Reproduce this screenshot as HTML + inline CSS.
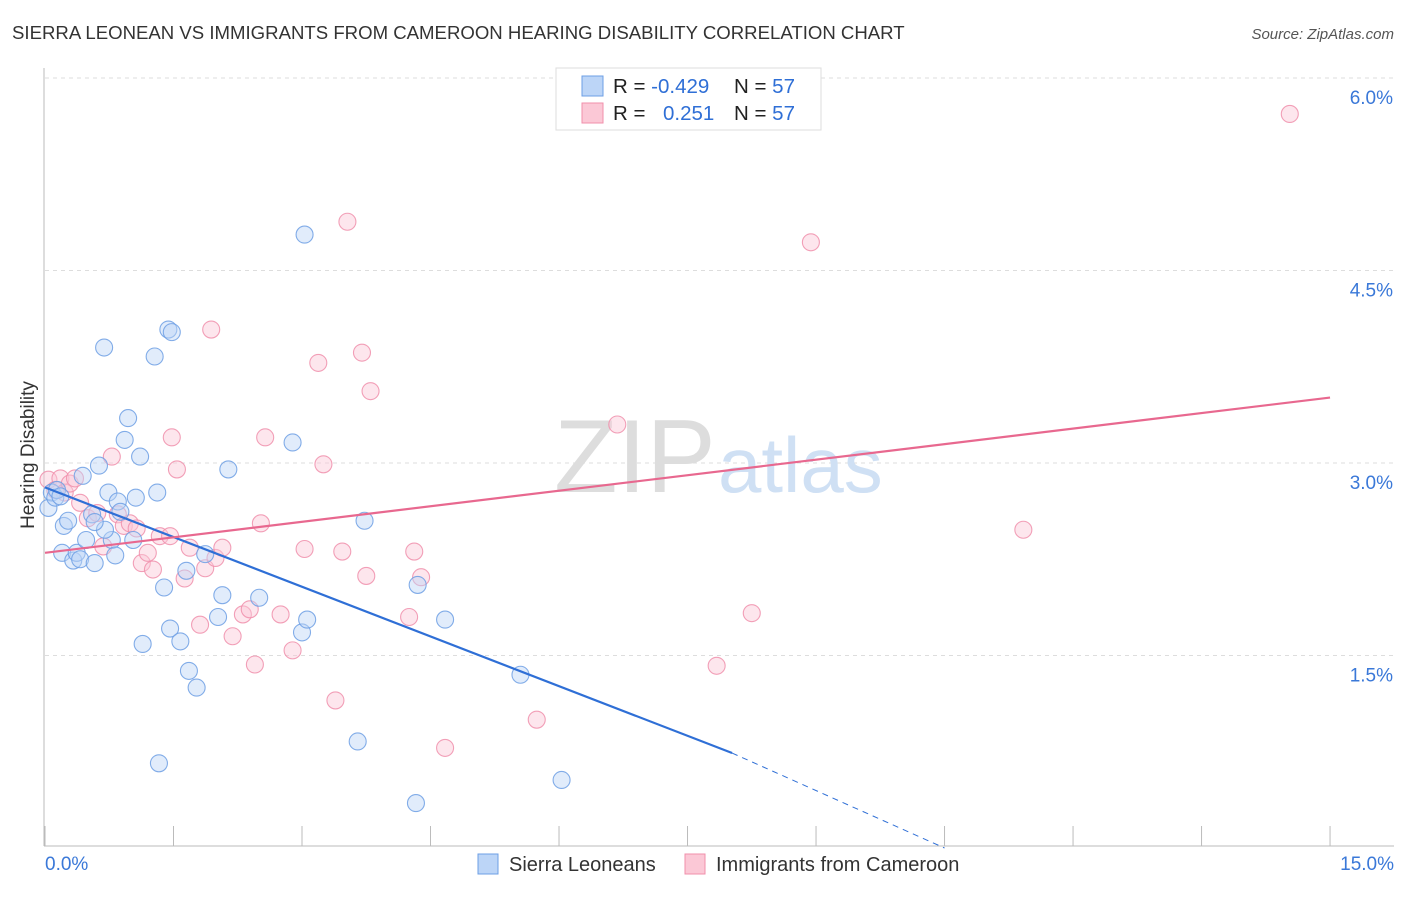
<!DOCTYPE html>
<html><head><meta charset="utf-8"><style>
body{margin:0;background:#fff;font-family:"Liberation Sans",sans-serif;}
svg text{font-family:"Liberation Sans",sans-serif;}
</style></head><body>
<svg id="chart" width="1406" height="892" xmlns="http://www.w3.org/2000/svg">
<text x="12" y="39" font-size="18.6" fill="#333">SIERRA LEONEAN VS IMMIGRANTS FROM CAMEROON HEARING DISABILITY CORRELATION CHART</text>
<text x="1394" y="39" font-size="15" fill="#555" font-style="italic" text-anchor="end">Source: ZipAtlas.com</text>
<text x="34" y="455" font-size="19" fill="#333" transform="rotate(-90 34 455)" text-anchor="middle">Hearing Disability</text>
<g id="grid"></g>
<g id="axes"></g>
<text x="554" y="492" font-size="104" fill="#ddd" font-family="Liberation Serif">ZIP</text>
<text x="718" y="492" font-size="78" fill="#cfe0f4">atlas</text>
<g id="marks"></g>
<g>
<rect x="556" y="68" width="265" height="62" fill="#fff" stroke="#ddd"/>
<rect x="582" y="76" width="21" height="20" fill="#bcd5f7" stroke="#6d9fe4"/>
<rect x="582" y="103" width="21" height="20" fill="#fbc8d6" stroke="#f08fab"/>
<text x="613" y="93" font-size="20.5" fill="#222">R = <tspan fill="#2f6fd6">-0.429</tspan></text>
<text x="734" y="93" font-size="20.5" fill="#222">N = <tspan fill="#2f6fd6">57</tspan></text>
<text x="613" y="120" font-size="20.5" fill="#222">R = </text>
<text x="663" y="120" font-size="20.5" fill="#2f6fd6">0.251</text>
<text x="734" y="120" font-size="20.5" fill="#222">N = <tspan fill="#2f6fd6">57</tspan></text>
</g>
<g>
<rect x="478" y="854" width="20" height="20" fill="#bcd5f7" stroke="#6d9fe4"/>
<text x="509" y="871" font-size="20" fill="#333">Sierra Leoneans</text>
<rect x="685" y="854" width="20" height="20" fill="#fbc8d6" stroke="#f08fab"/>
<text x="716" y="871" font-size="20" fill="#333">Immigrants from Cameroon</text>
</g>
</svg>
<script>
const yTicks=[1.5,3.0,4.5,6.0];
const xTickLabels=["0.0%","15.0%"];
const blueX=[0.04,0.08,0.12,0.14,0.2,0.22,0.27,0.33,0.37,0.41,0.44,0.48,0.55,0.58,0.63,0.69,0.74,0.78,0.82,0.85,0.88,0.93,0.97,1.03,1.06,1.11,1.28,1.31,1.33,1.39,1.44,1.48,1.46,1.58,1.65,1.68,1.77,1.87,2.02,2.07,2.14,2.5,2.89,3.0,3.03,3.06,3.65,3.73,4.33,4.35,4.67,5.55,6.03,1.14,0.7,0.58,0.18];
const blueY=[2.65,2.77,2.73,2.79,2.3,2.51,2.55,2.24,2.3,2.25,2.9,2.4,2.6,2.22,2.98,3.9,2.77,2.4,2.28,2.7,2.62,3.18,3.35,2.4,2.73,3.05,3.83,2.77,0.66,2.03,4.04,4.02,1.71,1.61,2.16,1.38,1.25,2.29,1.8,1.97,2.95,1.95,3.16,1.68,4.78,1.78,0.83,2.55,0.35,2.05,1.78,1.35,0.53,1.59,2.48,2.54,2.74];
const pinkX=[0.04,0.12,0.18,0.23,0.29,0.35,0.41,0.5,0.61,0.68,0.78,0.85,0.92,0.99,1.07,1.13,1.2,1.26,1.34,1.46,1.48,1.54,1.63,1.69,1.81,1.87,1.94,1.99,2.07,2.19,2.31,2.39,2.45,2.52,2.57,2.75,2.89,3.03,3.19,3.25,3.39,3.47,3.53,3.75,3.7,3.8,4.25,4.31,4.39,4.67,5.74,6.68,7.84,8.25,8.94,11.42,14.53];
const pinkY=[2.87,2.79,2.88,2.77,2.84,2.88,2.69,2.57,2.61,2.35,3.05,2.6,2.51,2.53,2.49,2.22,2.3,2.17,2.43,2.43,3.2,2.95,2.1,2.34,1.74,2.18,4.04,2.26,2.34,1.65,1.82,1.86,1.43,2.53,3.2,1.82,1.54,2.33,3.78,2.99,1.15,2.31,4.88,2.12,3.86,3.56,1.8,2.31,2.11,0.78,1.0,3.3,1.42,1.83,4.72,2.48,5.72];
const blueLine=[[0,2.81],[8.02,0.74]];const blueDash=[8.02,0.74,10.5,0.0];
const pinkLine=[[0,2.3],[15,3.51]];
const X=v=>45+v*85.67, Y=v=>848-v*128.33;
const NS="http://www.w3.org/2000/svg";
function mk(t,a,p){const e=document.createElementNS(NS,t);for(const k in a)e.setAttribute(k,a[k]);p.appendChild(e);return e;}
const grid=document.getElementById('grid'),axes=document.getElementById('axes'),marks=document.getElementById('marks');
yTicks.forEach(t=>{const l=mk('line',{x1:45,x2:1394,y1:Y(t),y2:Y(t),stroke:'#ddd','stroke-dasharray':'4 4'},grid);


const tx=mk('text',{x:1393,y:Y(t)+26,'font-size':19,fill:'#3a78d8','text-anchor':'end'},axes);tx.textContent=t.toFixed(1)+'%';

});
mk('line',{x1:44,x2:44,y1:68,y2:846,stroke:'#bbb'},axes);
mk('line',{x1:44,x2:1394,y1:846,y2:846,stroke:'#bbb'},axes);
for(let i=0;i<=10;i++){const t=mk('line',{x1:X(i*1.5),x2:X(i*1.5),y1:826,y2:846,stroke:'#bbb'},axes);

}
const l0=mk('text',{x:45,y:870,'font-size':19,fill:'#3a78d8'},axes);l0.textContent=xTickLabels[0];


const l1=mk('text',{x:1394,y:870,'font-size':19,fill:'#3a78d8','text-anchor':'end'},axes);l1.textContent=xTickLabels[1];


function pts(xs,ys,fill,stroke,name){xs.forEach((x,i)=>{const c=mk('circle',{cx:X(x),cy:Y(ys[i]),r:8.5,fill:fill,'fill-opacity':0.45,stroke:stroke,'stroke-width':1.1,'stroke-opacity':0.85},marks);

});}
pts(pinkX,pinkY,'#fbc8d6','#f08fab','cameroon-point');
pts(blueX,blueY,'#bcd5f7','#6d9fe4','sierra-point');
const bl=mk('line',{x1:X(blueLine[0][0]),y1:Y(blueLine[0][1]),x2:X(blueLine[1][0]),y2:Y(blueLine[1][1]),stroke:'#2f6fd6','stroke-width':2.2},marks);


const bd=mk('line',{x1:X(blueDash[0]),y1:Y(blueDash[1]),x2:X(blueDash[2]),y2:Y(blueDash[3]),stroke:'#2f6fd6','stroke-width':1,'stroke-dasharray':'6 5'},marks);


const pl=mk('line',{x1:X(pinkLine[0][0]),y1:Y(pinkLine[0][1]),x2:X(pinkLine[1][0]),y2:Y(pinkLine[1][1]),stroke:'#e8688f','stroke-width':2.2},marks);


</script>
</body></html>
